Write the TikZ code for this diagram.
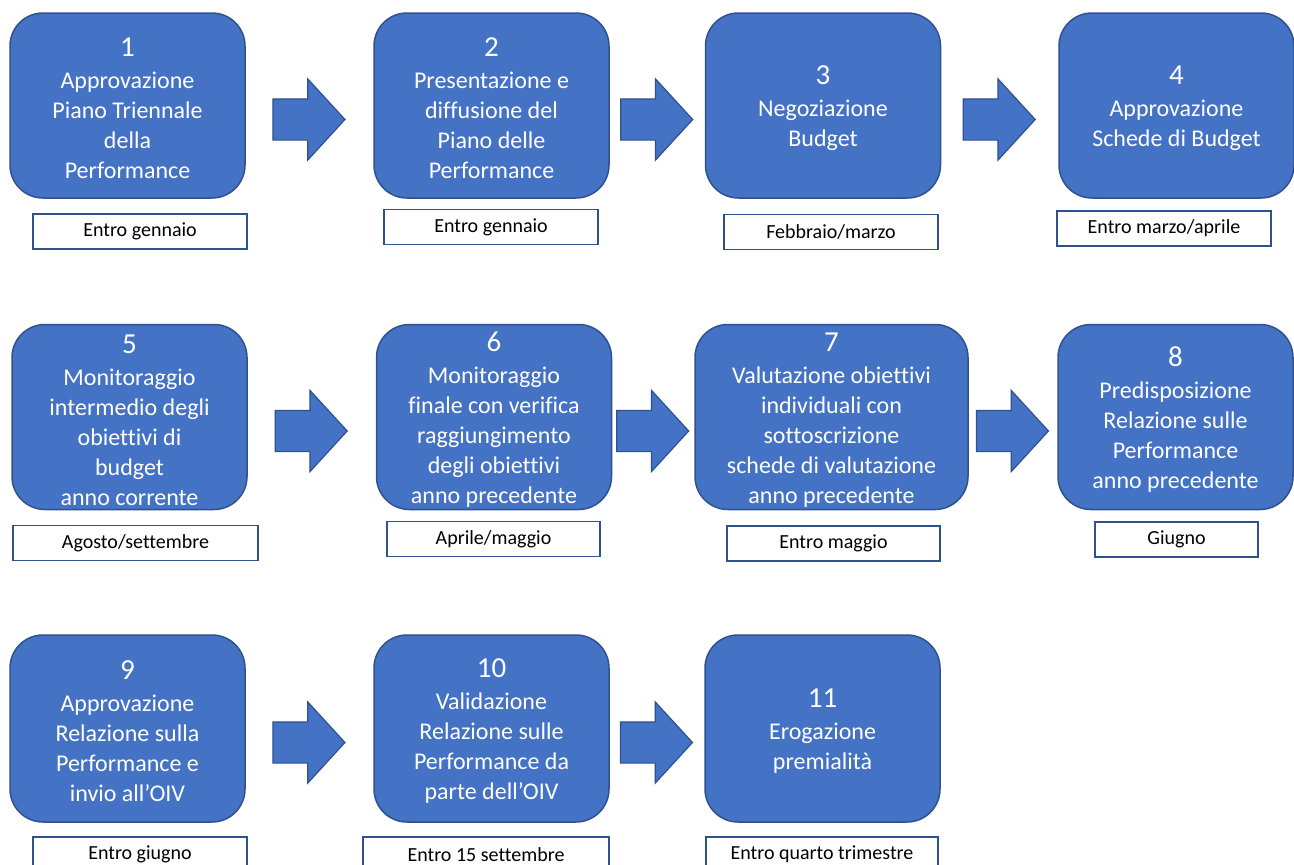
\documentclass[tikz,border=0pt]{standalone}
\usepackage{fontspec}
\setmainfont{Carlito}[Ligatures={TeX,NoCommon}]
\usetikzlibrary{shapes.arrows,positioning}

% step number on top of a phase box
\newcommand{\phnum}[1]{{\fontsize{29}{33}\selectfont\rule{0pt}{24.5pt}#1}\\[2pt]}

\begin{document}
\begin{tikzpicture}[
    x=1pt, y=-1pt,
    font=\fontsize{24}{30}\selectfont,
]

\definecolor{phaseFill}{HTML}{4472C4}
\definecolor{phaseBorder}{HTML}{2F528F}

\tikzset{
    phase/.style = {rectangle, rounded corners=33pt, minimum width=235pt, minimum height=185pt,
                    inner sep=0pt, align=center, text=white, draw=phaseBorder, line width=1.5pt, fill=phaseFill},
    deadline/.style = {rectangle, minimum width=214pt, minimum height=35pt, inner sep=0pt,
                       draw=phaseBorder, line width=1.5pt, fill=white, font=\fontsize{20}{23}\selectfont},
    flow/.style = {single arrow, single arrow head extend=20pt, single arrow tip angle=95,
                   minimum height=72pt, inner xsep=0pt, inner ysep=20pt, xshift=-10pt, yshift=-14pt,
                   draw=phaseBorder, line width=1.2pt, fill=phaseFill}
}

\clip (0,0) rectangle (1294,865);

% =========== ROW 1 ===========
\node[phase] (p1) at (127.5, 105.5) {\phnum{1}Approvazione\\Piano Triennale\\della\\Performance};
\node[phase] (p2) at (491.5, 105.5) {\phnum{2}Presentazione e\\diffusione del\\Piano delle\\Performance};
\node[phase] (p3) at (823, 105.5) {\phnum{3}Negoziazione\\Budget};
\node[phase] (p4) at (1176.5, 105.5) {\phnum{4}Approvazione\\Schede di Budget};

\node[deadline] (d1) at (140, 231.5) {Entro gennaio};
\node[deadline] (d2) at (491, 227) {Entro gennaio};
\node[deadline] (d3) at (831, 232) {Febbraio/marzo};
\node[deadline] (d4) at (1164, 228.5) {Entro marzo/aprile};

\path (p1.east) -- node[flow] {} (p2.west);
\path (p2.east) -- node[flow] {} (p3.west);
\path (p3.east) -- node[flow] {} (p4.west);

% =========== ROW 2 ===========
\node[phase] (p5) at (129.5, 417) {\phnum{5}Monitoraggio\\intermedio degli\\obiettivi di\\budget\\anno corrente};
\node[phase] (p6) at (494, 417) {\phnum{6}Monitoraggio\\finale con verifica\\raggiungimento\\degli obiettivi\\anno precedente};
\node[phase, minimum width=273pt] (p7) at (831.5, 417) {\phnum{7}Valutazione obiettivi\\individuali con\\sottoscrizione\\schede di valutazione\\anno precedente};
\node[phase] (p8) at (1175.5, 417) {\phnum{8}Predisposizione\\Relazione sulle\\Performance\\anno precedente};

\node[deadline, minimum width=245pt] (d5) at (135.5, 543) {Agosto/settembre};
\node[deadline, minimum width=213pt] (d6) at (493.5, 539) {Aprile/maggio};
\node[deadline, minimum width=213pt] (d7) at (833.5, 543.5) {Entro maggio};
\node[deadline, minimum width=163pt] (d8) at (1176.5, 539.5) {Giugno};

\path (p5.east) -- node[flow] {} (p6.west);
\path (p6.east) -- node[flow] {} (p7.west);
\path (p7.east) -- node[flow] {} (p8.west);

% =========== ROW 3 ===========
\node[phase, minimum height=187pt] (p9) at (127.5, 728.5) {\phnum{9}Approvazione\\Relazione sulla\\Performance e\\invio all’OIV};
\node[phase, minimum height=187pt] (p10) at (491.5, 728.5) {\phnum{10}Validazione\\Relazione sulle\\Performance da\\parte dell’OIV};
\node[phase, minimum height=187pt] (p11) at (822.5, 728.5) {\phnum{11}Erogazione\\premialità};

\node[deadline] (d9) at (140, 854.5) {Entro giugno};
\node[deadline, minimum width=246pt] (d10) at (486, 854.5) {Entro 15 settembre};
\node[deadline, minimum width=232pt] (d11) at (822, 854.5) {Entro quarto trimestre};

\path (p9.east) -- node[flow] {} (p10.west);
\path (p10.east) -- node[flow] {} (p11.west);

\end{tikzpicture}
\end{document}
